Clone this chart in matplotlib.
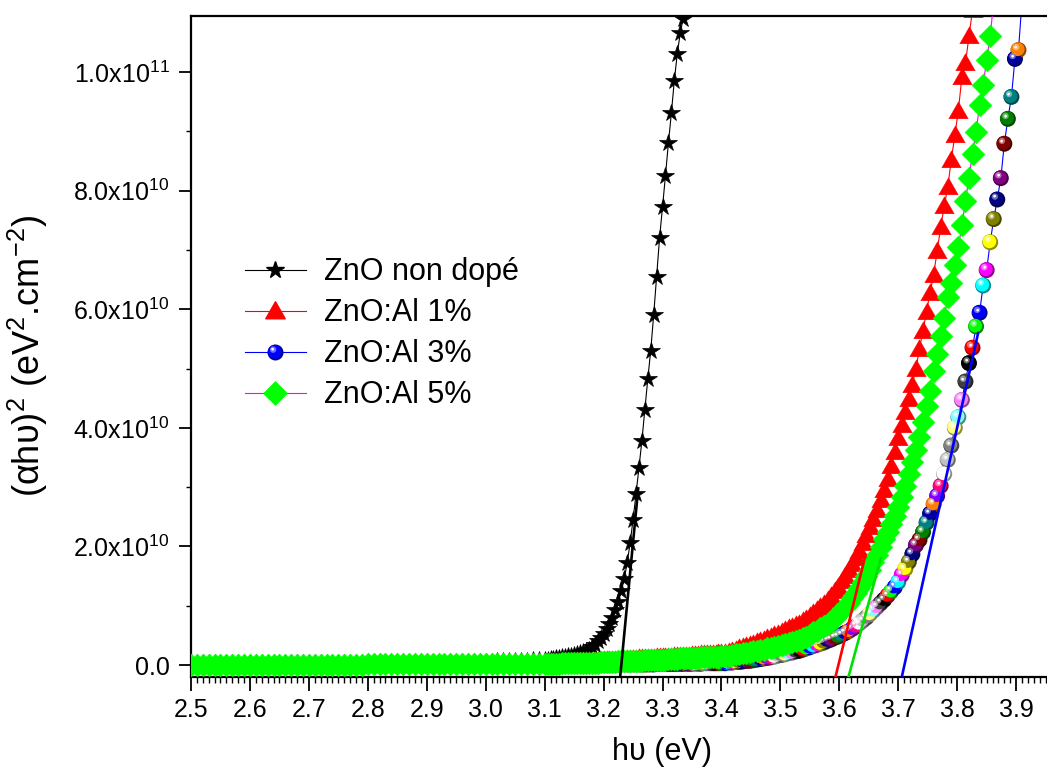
import matplotlib
matplotlib.use("Agg")
import numpy as np
import matplotlib.pyplot as plt
from matplotlib.lines import Line2D
from matplotlib.path import Path
from matplotlib.legend_handler import HandlerTuple
from matplotlib.ticker import MultipleLocator, FuncFormatter, FixedLocator

plt.rcParams['font.family'] = ['Liberation Sans', 'DejaVu Sans']
plt.rcParams['mathtext.fontset'] = 'custom'
plt.rcParams['mathtext.rm'] = 'Liberation Sans'
plt.rcParams['mathtext.it'] = 'Liberation Sans:italic'
plt.rcParams['mathtext.bf'] = 'Liberation Sans:bold'

# ---------------------------------------------------------------- data
# photon energy grid (eV)
energy_low = [2.50, 2.51, 2.52, 2.53, 2.54, 2.55, 2.56, 2.57, 2.58, 2.59,
              2.60, 2.61, 2.62, 2.63, 2.64, 2.65, 2.66, 2.67, 2.68, 2.69,
              2.70, 2.71, 2.72, 2.73, 2.74, 2.75, 2.76, 2.77, 2.78, 2.79,
              2.80, 2.81, 2.82, 2.83, 2.84, 2.85, 2.86, 2.87, 2.88, 2.89,
              2.90, 2.91, 2.92, 2.93, 2.94, 2.95, 2.96, 2.97, 2.98, 2.99,
              3.00, 3.01, 3.02, 3.03, 3.04, 3.05, 3.06, 3.07, 3.08, 3.09,
              3.10]
energy_mid = [3.105, 3.110, 3.115, 3.120, 3.125, 3.130, 3.135, 3.140, 3.145, 3.150,
              3.155, 3.160, 3.165, 3.170, 3.175, 3.180, 3.185, 3.190, 3.195, 3.200,
              3.205, 3.210, 3.215, 3.220, 3.225, 3.230, 3.235, 3.240, 3.245, 3.250,
              3.255, 3.260, 3.265, 3.270, 3.275, 3.280, 3.285, 3.290, 3.295, 3.300,
              3.305, 3.310, 3.315, 3.320, 3.325, 3.330, 3.335, 3.340, 3.345, 3.350,
              3.355, 3.360, 3.365, 3.370, 3.375, 3.380, 3.385, 3.390, 3.395, 3.400]
energy_high = [3.406, 3.412, 3.418, 3.424, 3.430, 3.436, 3.442, 3.448, 3.454, 3.460,
               3.466, 3.472, 3.478, 3.484, 3.490, 3.496, 3.502, 3.508, 3.514, 3.520,
               3.526, 3.532, 3.538, 3.544, 3.550, 3.556, 3.562, 3.568, 3.574, 3.580,
               3.586, 3.592, 3.598, 3.604, 3.610, 3.616, 3.622, 3.628, 3.634, 3.640,
               3.646, 3.652, 3.658, 3.664, 3.670, 3.676, 3.682, 3.688, 3.694, 3.700,
               3.706, 3.712, 3.718, 3.724, 3.730, 3.736, 3.742, 3.748, 3.754, 3.760,
               3.766, 3.772, 3.778, 3.784, 3.790, 3.796, 3.802, 3.808, 3.814, 3.820,
               3.826, 3.832, 3.838, 3.844, 3.850, 3.856, 3.862, 3.868, 3.874, 3.880,
               3.886, 3.892, 3.898, 3.904, 3.910, 3.916]

# (alpha h nu)^2 in units of 1e10 eV^2.cm^-2
undoped_low = [0.03, 0.03, 0.03, 0.03, 0.03, 0.03, 0.03, 0.03, 0.03, 0.03,
               0.03, 0.03, 0.03, 0.03, 0.03, 0.03, 0.03, 0.03, 0.03, 0.03,
               0.03, 0.03, 0.03, 0.03, 0.03, 0.03, 0.03, 0.03, 0.03, 0.03,
               0.03, 0.03, 0.03, 0.03, 0.03, 0.03, 0.03, 0.03, 0.04, 0.04,
               0.04, 0.04, 0.04, 0.04, 0.04, 0.04, 0.05, 0.05, 0.05, 0.05,
               0.05, 0.05, 0.06, 0.06, 0.06, 0.07, 0.07, 0.07, 0.08, 0.08,
               0.09]
undoped_mid = [0.09, 0.10, 0.10, 0.11, 0.12, 0.13, 0.14, 0.15, 0.16, 0.17,
               0.18, 0.20, 0.22, 0.24, 0.26, 0.30, 0.34, 0.40, 0.46, 0.53,
               0.61, 0.70, 0.80, 0.92, 1.06, 1.24, 1.45, 1.72, 2.05, 2.45,
               2.88, 3.32, 3.78, 4.30, 4.82, 5.30, 5.90, 6.55, 7.20, 7.72,
               8.25, 8.80, 9.30, 9.85, 10.30, 10.65, 10.90, 11.30]

al1_low = [0.02, 0.02, 0.02, 0.02, 0.02, 0.02, 0.02, 0.02, 0.02, 0.02,
           0.02, 0.02, 0.02, 0.02, 0.02, 0.02, 0.02, 0.02, 0.02, 0.02,
           0.02, 0.02, 0.02, 0.02, 0.02, 0.02, 0.02, 0.02, 0.02, 0.02,
           0.03, 0.03, 0.03, 0.03, 0.03, 0.03, 0.03, 0.03, 0.03, 0.03,
           0.03, 0.03, 0.03, 0.03, 0.03, 0.03, 0.03, 0.03, 0.03, 0.03,
           0.03, 0.03, 0.03, 0.03, 0.03, 0.04, 0.04, 0.04, 0.04, 0.04,
           0.04]
al1_mid = [0.04, 0.04, 0.04, 0.05, 0.05, 0.05, 0.05, 0.05, 0.05, 0.06,
           0.06, 0.06, 0.06, 0.06, 0.07, 0.07, 0.07, 0.07, 0.07, 0.08,
           0.08, 0.08, 0.08, 0.09, 0.09, 0.09, 0.09, 0.10, 0.10, 0.10,
           0.10, 0.11, 0.11, 0.11, 0.12, 0.12, 0.12, 0.13, 0.13, 0.13,
           0.14, 0.14, 0.14, 0.15, 0.15, 0.15, 0.16, 0.16, 0.16, 0.17,
           0.17, 0.17, 0.18, 0.18, 0.18, 0.19, 0.19, 0.19, 0.20, 0.20]
al1_high = [0.21, 0.22, 0.24, 0.26, 0.28, 0.30, 0.32, 0.34, 0.36, 0.38,
            0.40, 0.42, 0.45, 0.47, 0.50, 0.53, 0.56, 0.59, 0.62, 0.64,
            0.67, 0.70, 0.74, 0.78, 0.82, 0.87, 0.92, 0.97, 1.03, 1.09,
            1.16, 1.24, 1.32, 1.41, 1.50, 1.60, 1.70, 1.81, 1.93, 2.06,
            2.19, 2.33, 2.47, 2.62, 2.78, 2.95, 3.14, 3.36, 3.59, 3.82,
            4.05, 4.26, 4.48, 4.73, 5.00, 5.33, 5.64, 5.96, 6.28, 6.58,
            6.98, 7.38, 7.74, 8.06, 8.52, 8.93, 9.35, 9.92, 10.15, 10.60,
            11.05, 11.60]

al3_low = [0.00, 0.00, 0.00, 0.00, 0.00, 0.00, 0.00, 0.00, 0.00, 0.00,
           0.00, 0.00, 0.00, 0.00, 0.00, 0.00, 0.00, 0.00, 0.00, 0.00,
           0.00, 0.00, 0.00, 0.00, 0.00, 0.00, 0.00, 0.00, 0.00, 0.00,
           0.00, 0.00, 0.00, 0.00, 0.00, 0.00, 0.00, 0.00, 0.00, 0.00,
           0.00, 0.00, 0.00, 0.00, 0.00, 0.00, 0.00, 0.00, 0.00, 0.00,
           0.01, 0.01, 0.01, 0.01, 0.01, 0.01, 0.01, 0.01, 0.01, 0.01,
           0.01]
al3_mid = [0.01, 0.01, 0.01, 0.01, 0.01, 0.01, 0.01, 0.01, 0.01, 0.01,
           0.01, 0.01, 0.01, 0.01, 0.01, 0.01, 0.01, 0.01, 0.01, 0.01,
           0.01, 0.01, 0.01, 0.01, 0.01, 0.01, 0.01, 0.01, 0.01, 0.01,
           0.01, 0.01, 0.01, 0.01, 0.01, 0.01, 0.01, 0.02, 0.02, 0.02,
           0.02, 0.02, 0.02, 0.02, 0.02, 0.02, 0.02, 0.02, 0.02, 0.02,
           0.02, 0.02, 0.02, 0.03, 0.03, 0.03, 0.03, 0.03, 0.03, 0.03]
al3_high = [0.03, 0.04, 0.04, 0.05, 0.05, 0.06, 0.07, 0.07, 0.08, 0.09,
            0.10, 0.11, 0.12, 0.13, 0.14, 0.16, 0.17, 0.18, 0.20, 0.21,
            0.23, 0.24, 0.26, 0.28, 0.30, 0.32, 0.34, 0.36, 0.38, 0.41,
            0.43, 0.46, 0.48, 0.51, 0.54, 0.57, 0.61, 0.65, 0.70, 0.75,
            0.80, 0.86, 0.92, 0.98, 1.04, 1.10, 1.17, 1.24, 1.31, 1.40,
            1.52, 1.62, 1.74, 1.87, 2.02, 2.11, 2.24, 2.40, 2.55, 2.71,
            2.85, 3.02, 3.22, 3.46, 3.70, 4.00, 4.18, 4.47, 4.78, 5.09,
            5.35, 5.71, 5.94, 6.40, 6.66, 7.13, 7.52, 7.85, 8.21, 8.79,
            9.21, 9.58, 10.22, 10.37, 11.20, 11.90]

al5_low = [0.00, 0.00, 0.00, 0.00, 0.00, 0.00, 0.00, 0.00, 0.00, 0.00,
           0.00, 0.00, 0.00, 0.00, 0.00, 0.00, 0.00, 0.00, 0.00, 0.00,
           0.00, 0.00, 0.00, 0.00, 0.00, 0.00, 0.00, 0.00, 0.00, 0.00,
           0.01, 0.01, 0.01, 0.01, 0.01, 0.01, 0.01, 0.01, 0.01, 0.01,
           0.01, 0.01, 0.01, 0.01, 0.01, 0.01, 0.01, 0.01, 0.01, 0.01,
           0.01, 0.01, 0.01, 0.01, 0.01, 0.02, 0.02, 0.02, 0.02, 0.02,
           0.02]
al5_mid = [0.02, 0.02, 0.02, 0.02, 0.02, 0.03, 0.03, 0.03, 0.03, 0.03,
           0.03, 0.03, 0.04, 0.04, 0.04, 0.04, 0.04, 0.04, 0.05, 0.05,
           0.05, 0.05, 0.05, 0.05, 0.06, 0.06, 0.06, 0.06, 0.06, 0.07,
           0.07, 0.07, 0.07, 0.08, 0.08, 0.08, 0.08, 0.09, 0.09, 0.09,
           0.09, 0.10, 0.10, 0.10, 0.10, 0.11, 0.11, 0.11, 0.12, 0.12,
           0.12, 0.12, 0.13, 0.13, 0.13, 0.13, 0.14, 0.14, 0.14, 0.15]
al5_high = [0.15, 0.16, 0.17, 0.18, 0.19, 0.20, 0.21, 0.22, 0.23, 0.24,
            0.25, 0.26, 0.28, 0.29, 0.30, 0.32, 0.33, 0.35, 0.37, 0.39,
            0.41, 0.43, 0.45, 0.48, 0.51, 0.55, 0.58, 0.62, 0.66, 0.70,
            0.75, 0.80, 0.86, 0.92, 0.98, 1.05, 1.13, 1.21, 1.30, 1.40,
            1.50, 1.61, 1.73, 1.86, 1.99, 2.12, 2.25, 2.38, 2.52, 2.67,
            2.84, 3.02, 3.22, 3.42, 3.63, 3.85, 4.10, 4.36, 4.62, 4.95,
            5.25, 5.55, 5.85, 6.20, 6.45, 6.75, 7.05, 7.42, 7.82, 8.22,
            8.62, 8.98, 9.45, 9.78, 10.20, 10.60, 11.20, 11.80]

# linear extrapolations of the absorption edges (energy, value) end points
fit_undoped = ([3.2272, 3.259], [-0.30, 3.00])
fit_al1 = ([3.591, 3.645], [-0.30, 1.88])
fit_al3 = ([3.7038, 3.836], [-0.30, 5.62])
fit_al5 = ([3.6128, 3.671], [-0.30, 1.82])

labels = ['ZnO non dopé', 'ZnO:Al 1%', 'ZnO:Al 3%', 'ZnO:Al 5%']
x_ticks = [2.5, 2.6, 2.7, 2.8, 2.9, 3.0, 3.1, 3.2, 3.3, 3.4, 3.5, 3.6, 3.7,
           3.8, 3.9]
y_ticks = [0, 2e10, 4e10, 6e10, 8e10, 1e11]

# ---------------------------------------------------------------- helpers
energy = energy_low + energy_mid + energy_high
SCALE = 1e10


def series(*parts):
    vals = [v for p in parts for v in p]
    return np.array(energy[:len(vals)]), np.array(vals) * SCALE


def circle_marker(cx, cy, r):
    """Circle path inside the unit marker box (so offsets survive rescaling)."""
    c = Path.circle((cx, cy), r)
    verts = np.concatenate([c.vertices, [[-1.0, -1.0], [1.0, 1.0]]])
    codes = np.concatenate([c.codes, [Path.MOVETO, Path.MOVETO]])
    return Path(verts, codes)


ball_base = circle_marker(0.0, 0.0, 1.0)
ball_body = circle_marker(-0.10, 0.10, 0.86)
ball_glow = circle_marker(-0.30, 0.36, 0.40)
ball_spec = circle_marker(-0.36, 0.42, 0.17)

triangle = Path([(0.0, 1.0), (-1.0, -0.75), (1.0, -0.75), (0.0, 1.0)],
                [Path.MOVETO, Path.LINETO, Path.LINETO, Path.CLOSEPOLY])
diamond = Path([(0.0, 1.0), (1.0, 0.0), (0.0, -1.0), (-1.0, 0.0), (0.0, 1.0)],
               [Path.MOVETO, Path.LINETO, Path.LINETO, Path.LINETO, Path.CLOSEPOLY])

# Origin-style automatic colour increment
palette = ['#000000', '#FF0000', '#00FF00', '#0000FF', '#00FFFF', '#FF00FF',
           '#FFFF00', '#808000', '#000080', '#800080', '#800000', '#008000',
           '#008080', '#0000A0', '#FF8000', '#8000FF', '#FF0080', '#FFFFFF',
           '#C0C0C0', '#808080', '#FFFF80', '#80FFFF', '#FF80FF', '#404040']


def rgb(h):
    h = h.lstrip('#')
    return np.array([int(h[i:i + 2], 16) / 255 for i in (0, 2, 4)])


STAR_MS = 13.0
TRI_MS = 14.0
DIA_MS = 16.5
BALL_MS = 11.5

# ---------------------------------------------------------------- figure
fig = plt.figure(figsize=(10.47, 7.73), dpi=100)
ax = fig.add_axes([191 / 1047, 96 / 773, 943 / 1047, 661 / 773])

# ZnO undoped
x0, y0 = series(undoped_low, undoped_mid)
ax.plot(x0, y0, color='black', lw=0.8, zorder=2.0)
ax.plot(x0, y0, ls='none', marker='*', ms=STAR_MS, mfc='black', mec='black',
        mew=0.5, zorder=2.1)

# ZnO:Al 1%
x1, y1 = series(al1_low, al1_mid, al1_high)
ax.plot(x1, y1, color='#FF0000', lw=0.8, zorder=2.2)
ax.plot(x1, y1, ls='none', marker=triangle, ms=TRI_MS, mfc='#FF0000',
        mec='#FF0000', mew=0.3, zorder=2.3)

# ZnO:Al 3% : shaded balls with incrementing colours
x3, y3 = series(al3_low, al3_mid, al3_high)
ax.plot(x3, y3, color='#0000FF', lw=0.8, zorder=2.4)
n3 = len(x3)
offset = (14 - (n3 - 3)) % 24
cols = np.array([rgb(palette[(k + offset) % 24]) for k in range(n3)])
white = np.ones(3)
s_ball = BALL_MS ** 2
ax.scatter(x3, y3, s=s_ball, marker=ball_base, c=cols * 0.55, linewidths=0, zorder=2.5)
ax.scatter(x3, y3, s=s_ball, marker=ball_body, c=cols, linewidths=0, zorder=2.6)
ax.scatter(x3, y3, s=s_ball, marker=ball_glow, c=0.45 * cols + 0.55 * white,
           linewidths=0, alpha=0.8, zorder=2.7)
ax.scatter(x3, y3, s=s_ball, marker=ball_spec, c='white', linewidths=0, zorder=2.8)

# ZnO:Al 5%
x5, y5 = series(al5_low, al5_mid, al5_high)
ax.plot(x5, y5, color='#FF00FF', lw=0.8, zorder=2.9)
ax.plot(x5, y5, ls='none', marker=diamond, ms=DIA_MS, mfc='#00FF00',
        mec='#00FF00', mew=0.3, zorder=3.0)

# band-gap extrapolation lines
for (fx, fy), col in ((fit_undoped, 'black'), (fit_al1, '#FF0000'),
                      (fit_al3, '#0000FF'), (fit_al5, '#00E000')):
    ax.plot(fx, np.array(fy) * SCALE, color=col, lw=1.9, zorder=4,
            solid_capstyle='butt')

# ---------------------------------------------------------------- axes
ax.set_xlim(2.5, 4.1)
ax.set_ylim(-0.202e10, 10.944e10)

ax.xaxis.set_major_locator(FixedLocator(x_ticks))
ax.xaxis.set_minor_locator(MultipleLocator(0.01))
ax.xaxis.set_major_formatter(FuncFormatter(lambda v, p: f'{v:.1f}'))
ax.yaxis.set_major_locator(FixedLocator(y_ticks))
ax.yaxis.set_minor_locator(MultipleLocator(1e10))


def sci(v, pos):
    if abs(v) < 1:
        return '0.0'
    e = int(np.floor(np.log10(v)))
    return f'{v / 10 ** e:.1f}x10$^{{{e}}}$'


ax.yaxis.set_major_formatter(FuncFormatter(sci))

ax.tick_params(axis='x', which='major', direction='out', length=10, width=1.3,
               labelsize=18, pad=5, top=False)
ax.tick_params(axis='x', which='minor', direction='out', length=4.3, width=1.0,
               top=False)
ax.tick_params(axis='y', which='major', direction='out', length=8.5, width=1.3,
               labelsize=18, pad=7, right=False)
ax.tick_params(axis='y', which='minor', direction='out', length=3.6, width=1.0,
               right=False)
for side in ('left', 'bottom', 'top'):
    ax.spines[side].set_linewidth(1.6)
ax.spines['right'].set_visible(False)

ax.set_xlabel('hυ (eV)', fontsize=22, labelpad=11)
ax.set_ylabel('(αhυ)$^2$ (eV$^2$.cm$^{-2}$)', fontsize=26)
ax.yaxis.set_label_coords(-0.150, 0.485)

# ---------------------------------------------------------------- legend
h_star = Line2D([], [], color='black', lw=0.8, marker='*', ms=STAR_MS,
                mfc='black', mec='black')
h_tri = Line2D([], [], color='#FF0000', lw=0.8, marker=triangle, ms=TRI_MS,
               mfc='#FF0000', mec='#FF0000')
blue = rgb('#0000FF')
h_ball = (Line2D([], [], color='#0000FF', lw=0.8, marker=ball_base, ms=BALL_MS,
                 mfc=blue * 0.55, mec='none'),
          Line2D([], [], ls='none', marker=ball_body, ms=BALL_MS, mfc=blue, mec='none'),
          Line2D([], [], ls='none', marker=ball_glow, ms=BALL_MS,
                 mfc=0.45 * blue + 0.55 * white, mec='none', alpha=0.8),
          Line2D([], [], ls='none', marker=ball_spec, ms=BALL_MS, mfc='white', mec='none'))
h_dia = Line2D([], [], color='#FF00FF', lw=0.8, marker=diamond, ms=DIA_MS,
               mfc='#00FF00', mec='#00FF00')

ax.legend([h_star, h_tri, h_ball, h_dia], labels,
          handler_map={tuple: HandlerTuple(ndivide=1, pad=0)},
          loc='upper left', bbox_to_anchor=(0.057, 0.635), frameon=False,
          fontsize=22, handlelength=2.0, handletextpad=0.6, labelspacing=0.36,
          borderpad=0, borderaxespad=0)

fig.savefig('out.png', dpi=100)
